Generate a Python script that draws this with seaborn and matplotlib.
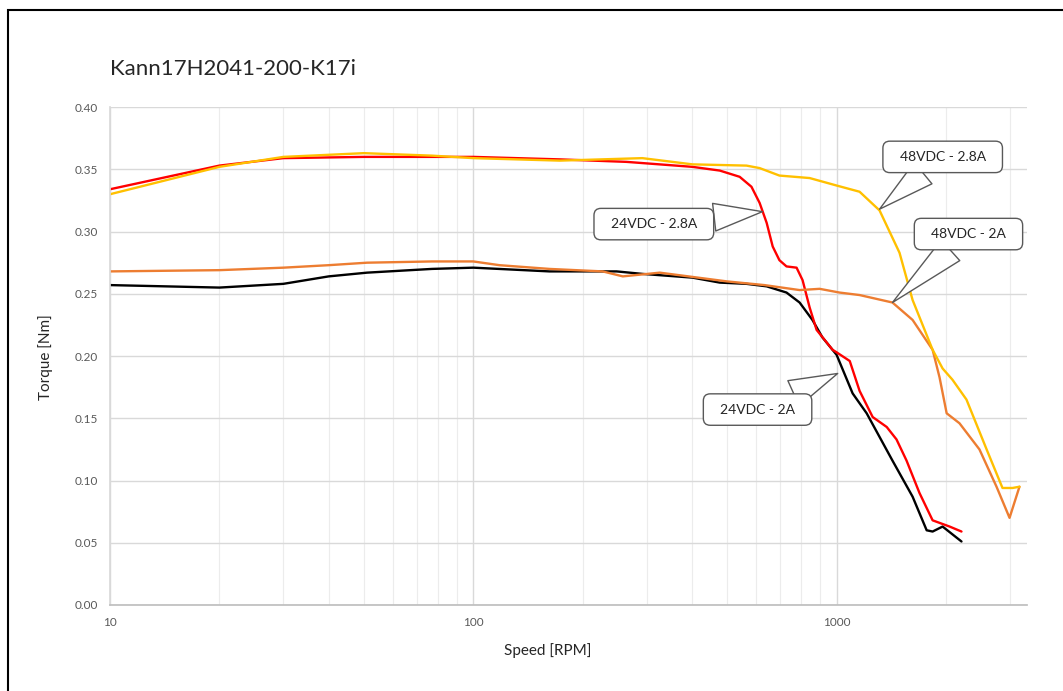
import numpy as np
import pandas as pd
import seaborn as sns
import matplotlib.pyplot as plt
from matplotlib.ticker import LogLocator, FixedLocator, NullFormatter, FormatStrFormatter
from matplotlib.patches import Rectangle

# torque curves
speed_24_2a = [10, 20, 30, 40, 51, 77, 100, 162, 248, 292, 401, 477, 565, 642, 728, 791,
               858, 914, 1000, 1107, 1210, 1425, 1619, 1770, 1838, 1958, 2207]
torque_24_2a = [0.257, 0.255, 0.258, 0.264, 0.267, 0.270, 0.271, 0.268, 0.268, 0.266, 0.263,
                0.259, 0.258, 0.256, 0.251, 0.243, 0.229, 0.215, 0.201, 0.170, 0.154, 0.116,
                0.087, 0.060, 0.059, 0.063, 0.051]

speed_24_28a = [10, 20, 30, 50, 100, 173, 264, 401, 477, 541, 583, 614, 642, 667, 696, 728,
                776, 806, 843, 881, 975, 1000, 1087, 1157, 1257, 1374, 1462, 1558, 1691, 1838,
                2047, 2207]
torque_24_28a = [0.334, 0.353, 0.359, 0.360, 0.360, 0.358, 0.356, 0.352, 0.349, 0.344, 0.336,
                 0.323, 0.307, 0.288, 0.277, 0.272, 0.271, 0.261, 0.239, 0.221, 0.205, 0.203,
                 0.196, 0.172, 0.151, 0.143, 0.133, 0.116, 0.090, 0.068, 0.063, 0.059]

speed_48_2a = [10, 20, 30, 40, 51, 77, 100, 118, 162, 227, 258, 326, 498, 633, 791, 898,
               1019, 1157, 1425, 1619, 1838, 1920, 2009, 2179, 2473, 2756, 2993, 3187]
torque_48_2a = [0.268, 0.269, 0.271, 0.273, 0.275, 0.276, 0.276, 0.273, 0.270, 0.268, 0.264,
                0.267, 0.260, 0.257, 0.253, 0.254, 0.251, 0.249, 0.243, 0.229, 0.205, 0.183,
                0.154, 0.146, 0.125, 0.095, 0.070, 0.095]

speed_48_28a = [10, 20, 30, 50, 77, 100, 173, 292, 401, 565, 614, 696, 843, 1000, 1157, 1313,
                1490, 1619, 1838, 1958, 2084, 2278, 2588, 2862, 3050, 3187]
torque_48_28a = [0.330, 0.352, 0.360, 0.363, 0.361, 0.359, 0.357, 0.359, 0.354, 0.353, 0.351,
                 0.345, 0.343, 0.337, 0.332, 0.317, 0.283, 0.245, 0.205, 0.190, 0.181, 0.165,
                 0.125, 0.094, 0.094, 0.095]

curve_names = ['24VDC - 2A', '24VDC - 2.8A', '48VDC - 2A', '48VDC - 2.8A']
curve_colors = ['#000000', '#FF0000', '#ED7D31', '#FFC000']

# label, point on curve, label position
callouts = [
    ('48VDC - 2.8A', (1313, 0.318), (1959, 0.360)),
    ('24VDC - 2.8A', (625, 0.316), (314, 0.306)),
    ('48VDC - 2A', (1425, 0.243), (2307, 0.298)),
    ('24VDC - 2A', (1007, 0.186), (606, 0.157)),
]

frames = []
for name, sp, tq in zip(curve_names,
                        [speed_24_2a, speed_24_28a, speed_48_2a, speed_48_28a],
                        [torque_24_2a, torque_24_28a, torque_48_2a, torque_48_28a]):
    frames.append(pd.DataFrame({'speed': sp, 'torque': tq, 'curve': name}))
df = pd.concat(frames, ignore_index=True)

sns.set_theme(style='white')
plt.rcParams['font.family'] = ['Lato', 'DejaVu Sans']

fig = plt.figure(figsize=(10.63, 6.91), dpi=100)
ax = fig.add_axes([0.1035, 0.1245, 0.8625, 0.7205])

sns.lineplot(data=df, x='speed', y='torque', hue='curve', hue_order=curve_names,
             palette=dict(zip(curve_names, curve_colors)), estimator=None, sort=False,
             linewidth=1.7, legend=False, ax=ax)
for line in ax.get_lines():
    line.set_solid_joinstyle('round')

ax.set_xscale('log')
ax.set_xlim(10, 3340)
ax.set_ylim(0, 0.40)
ax.xaxis.set_major_locator(FixedLocator([10, 100, 1000]))
ax.xaxis.set_major_formatter(FormatStrFormatter('%d'))
ax.xaxis.set_minor_locator(LogLocator(base=10, subs=np.arange(2, 10)))
ax.xaxis.set_minor_formatter(NullFormatter())
ax.yaxis.set_major_locator(FixedLocator(np.arange(0, 0.41, 0.05)))
ax.yaxis.set_major_formatter(FormatStrFormatter('%.2f'))

ax.grid(which='major', axis='both', color='#d9d9d9', linewidth=1)
ax.grid(which='minor', axis='x', color='#ececec', linewidth=0.8)
ax.set_axisbelow(True)
ax.tick_params(which='both', length=0, colors='#595959', labelsize=8.5)
ax.tick_params(axis='y', pad=9)
ax.tick_params(axis='x', pad=9)
for s in ['top', 'right']:
    ax.spines[s].set_visible(False)
ax.spines['left'].set_color('#d9d9d9')
ax.spines['bottom'].set_color('#bfbfbf')

ax.set_xlabel('Speed [RPM]', fontsize=11, color='#262626')
ax.set_ylabel('Torque [Nm]', fontsize=11, color='#262626')
ax.xaxis.set_label_coords(0.4776, -0.076)
ax.yaxis.set_label_coords(-0.062, 0.498)

fig.text(110 / 1063, 1 - 69 / 691, 'Kann17H2041-200-K17i', fontsize=16, color='#262626',
         va='center', ha='left')

for label, tip, box in callouts:
    ax.annotate(f'  {label}  ', xy=tip, xytext=box, ha='center', va='center', fontsize=10,
                color='#262626',
                bbox=dict(boxstyle='round,pad=0.7,rounding_size=0.5', fc='white',
                          ec='#595959', lw=1),
                arrowprops=dict(arrowstyle='wedge,tail_width=2.0,shrink_factor=0.5',
                                fc='white', ec='#595959', lw=1, shrinkA=0, shrinkB=0))

fig.patches.append(Rectangle((8 / 1063, -0.1), 1.2, 1 - 10 / 691 + 0.1,
                             transform=fig.transFigure, fill=False, ec='black', lw=1.5))

fig.savefig('out.png', dpi=100)
